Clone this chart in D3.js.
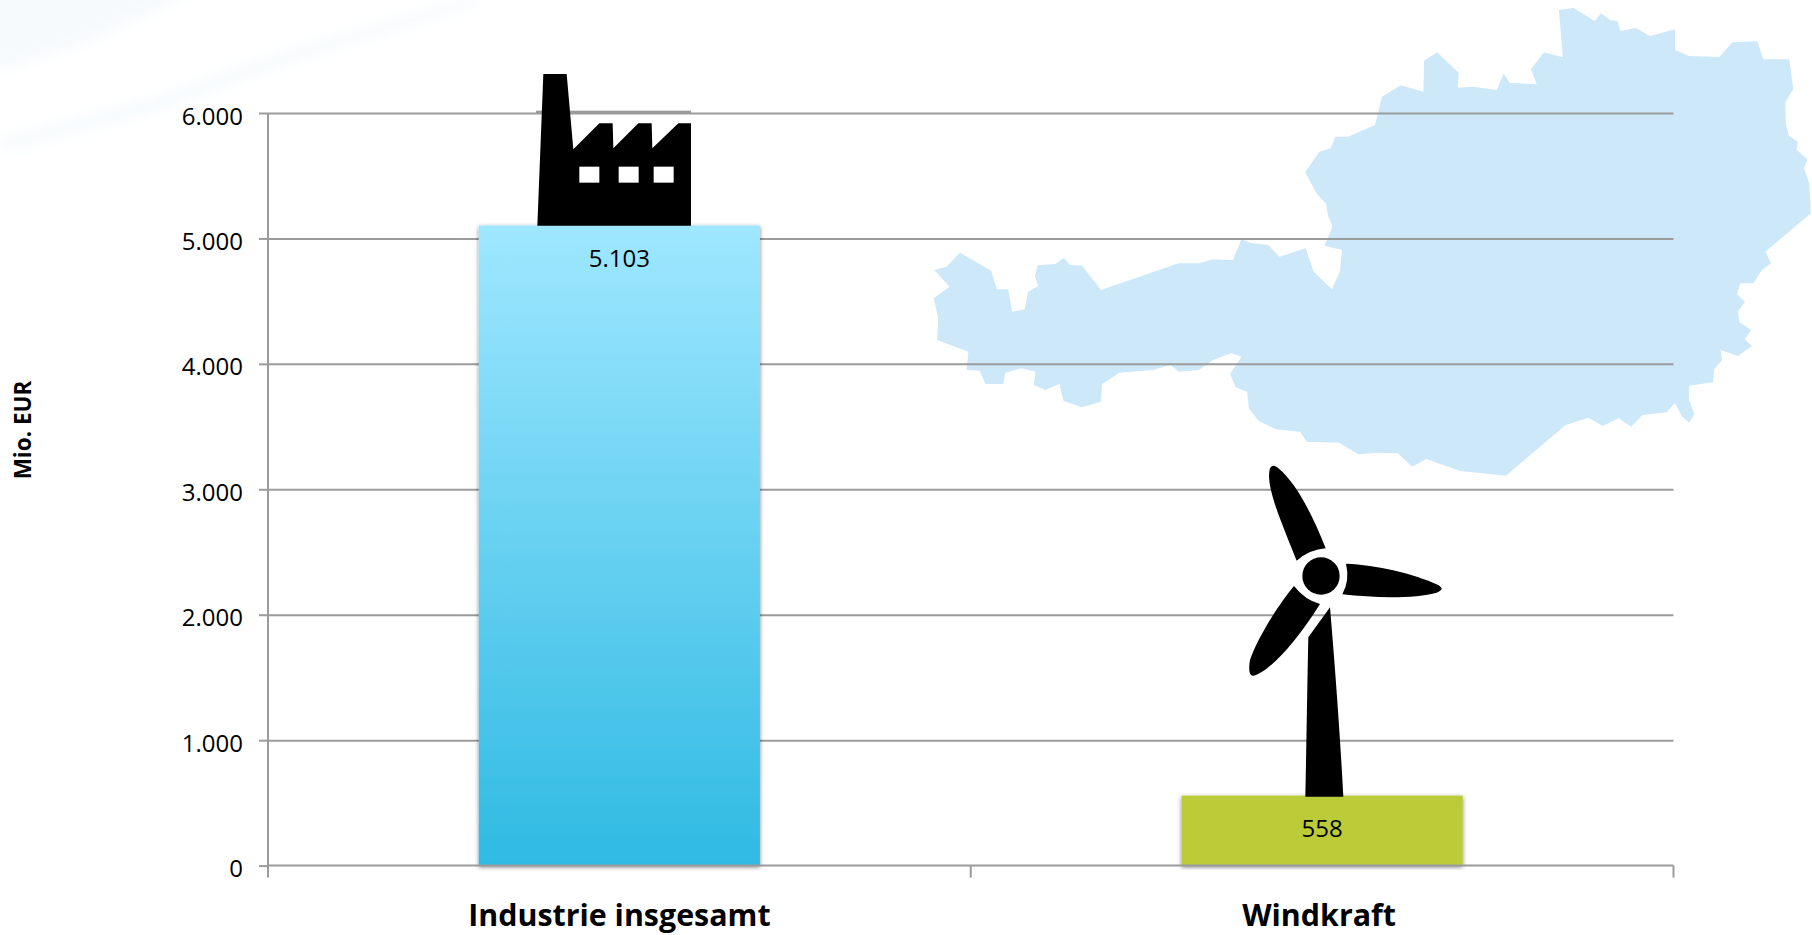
<!DOCTYPE html>
<html><head><meta charset="utf-8">
<script src="https://cdn.jsdelivr.net/npm/d3@7"></script>
<style>html,body{margin:0;padding:0;background:#fff;overflow:hidden}svg{display:block}text{font-family:"Open Sans",sans-serif;fill:#000}</style>
</head><body><svg id="c" width="1812" height="935"></svg>
<script>
const categories = ["Industrie insgesamt", "Windkraft"];
const values = [5103, 558];
const valueLabels = ["5.103", "558"];
const yTicks = [0, 1000, 2000, 3000, 4000, 5000, 6000];
const yTickLabels = ["0", "1.000", "2.000", "3.000", "4.000", "5.000", "6.000"];
const yTitle = "Mio. EUR";

const austria = [[25,810],[47,800],[70,758],[125,812],[135,868],[155,868],[162,935],[184,928],[190,875],[208,858],[202,828],[207,796],[238,792],[253,773],[263,795],[285,797],[318,870],[455,790],[490,790],[515,778],[550,780],[565,718],[580,728],[612,735],[632,770],[678,745],[692,815],[724,868],[738,815],[742,750],[711,737],[725,680],[717,645],[714,612],[697,580],[677,517],[702,455],[722,445],[730,410],[752,410],[800,375],[812,290],[845,256],[885,275],[886,182],[909,157],[947,218],[945,263],[972,260],[1014,270],[1026,220],[1036,248],[1084,253],[1074,207],[1097,157],[1130,172],[1123,30],[1149,24],[1186,63],[1197,40],[1213,60],[1226,63],[1231,93],[1258,84],[1283,108],[1327,88],[1327,150],[1352,168],[1405,171],[1428,127],[1472,124],[1482,178],[1528,178],[1535,267],[1521,307],[1522,370],[1527,407],[1543,425],[1541,450],[1560,478],[1554,505],[1563,550],[1566,640],[1486,755],[1496,790],[1480,810],[1465,850],[1442,850],[1436,883],[1450,905],[1438,933],[1440,965],[1461,990],[1450,1017],[1462,1038],[1438,1068],[1407,1050],[1410,1080],[1396,1108],[1394,1147],[1352,1157],[1352,1200],[1361,1243],[1352,1268],[1340,1250],[1327,1210],[1312,1237],[1270,1245],[1250,1280],[1228,1255],[1200,1278],[1175,1253],[1135,1275],[1030,1427],[950,1413],[890,1377],[865,1400],[840,1360],[805,1358],[770,1363],[737,1328],[680,1325],[668,1295],[625,1288],[595,1262],[578,1225],[575,1175],[555,1162],[545,1122],[565,1070],[547,1060],[515,1080],[490,1110],[455,1115],[440,1095],[410,1110],[350,1118],[320,1153],[318,1205],[285,1222],[252,1203],[245,1152],[220,1170],[200,1155],[203,1115],[178,1105],[150,1118],[146,1152],[115,1152],[105,1112],[82,1110],[85,1055],[30,1020],[32,955],[24,895],[52,860]];

const svg = d3.select("#c");
const plotL = 268, plotR = 1673.5, plotT = 113, plotB = 865.6;
const labelFont = '"Open Sans",sans-serif';
const x = d3.scaleBand().domain(categories).range([plotL, plotR]).paddingInner(0.6).paddingOuter(0.3);
const y = d3.scaleLinear().domain([0, 6000]).range([plotB, plotT]);

const defs = svg.append("defs");
const g = defs.append("linearGradient").attr("id","barGrad").attr("x1",0).attr("x2",0).attr("y1",0).attr("y2",1);
g.append("stop").attr("offset","0%").attr("stop-color","#9fe7ff");
g.append("stop").attr("offset","100%").attr("stop-color","#2fbae3");
const blur = defs.append("filter").attr("id","soft").attr("x","-20%").attr("y","-20%").attr("width","140%").attr("height","140%");
blur.append("feGaussianBlur").attr("stdDeviation",7);
const sh = defs.append("filter").attr("id","shadow").attr("x","-5%").attr("y","-5%").attr("width","110%").attr("height","110%");
sh.append("feDropShadow").attr("dx",0).attr("dy",1.5).attr("stdDeviation",2).attr("flood-color","#000").attr("flood-opacity",0.5);

// background swooshes
const swooshes = svg.append("g").attr("filter","url(#soft)");
swooshes.append("path").attr("d","M-20,-20 L220,-20 L123,25 L90,42 L0,70 L-20,70 Z").attr("fill","#f2f8fb").attr("opacity",0.7);
swooshes.append("path").attr("d","M477,-4 L300,48 L150,100 L0,140 L0,150 L150,112 L300,58 L477,4 Z").attr("fill","#eaf4f8").attr("opacity",0.55);

// map
svg.append("path")
  .attr("d", d3.line()(austria) + "Z")
  .attr("transform","translate(920,0) scale(0.5689,0.33333)")
  .attr("fill","#cde8f9");

// gridlines
const grid = svg.append("g").attr("transform",`translate(${plotL},0)`)
  .call(d3.axisLeft(y).tickValues(yTicks.slice(1)).tickSize(-(plotR-plotL)).tickFormat(""));
grid.select(".domain").remove();
grid.selectAll("line").attr("stroke","#9b9b9b").attr("stroke-width",2);

// bars
const barFill = ["url(#barGrad)", "#bbcc38"];
svg.append("g").selectAll("rect").data(categories).join("rect")
  .attr("x", d => x(d)).attr("width", x.bandwidth())
  .attr("y", (d,i) => y(values[i])).attr("height", (d,i) => plotB - y(values[i]))
  .attr("fill", (d,i) => barFill[i]).attr("filter","url(#shadow)");

// y axis
const yAxis = svg.append("g").attr("transform",`translate(${plotL},0)`)
  .call(d3.axisLeft(y).tickValues(yTicks).tickSize(9).tickPadding(16).tickFormat((d,i)=>yTickLabels[i]));
yAxis.select(".domain").attr("stroke","#9b9b9b").attr("stroke-width",2).attr("d",`M0,${plotT}V${plotB}`);
yAxis.selectAll("line").attr("stroke","#9b9b9b").attr("stroke-width",2);
yAxis.selectAll("text").attr("font-size",24).attr("dy",11).style("font-family",labelFont).attr("fill","#000");

// x axis
const xAxis = svg.append("g").attr("transform",`translate(0,${plotB})`)
  .call(d3.axisBottom(x).tickSize(0).tickPadding(0));
xAxis.select(".domain").attr("stroke","#9b9b9b").attr("stroke-width",2).attr("d",`M${plotL},0H${plotR}`);
xAxis.selectAll("text").attr("y",60).attr("dy",0).attr("dx",(d,i)=>i?-3:0).attr("font-size",30.4).attr("font-weight",700).style("font-family",labelFont).attr("fill","#000");
xAxis.selectAll(".bound").data([plotL, plotL + x.step(), plotR]).join("line").attr("class","bound")
  .attr("x1",d=>d).attr("x2",d=>d).attr("y1",0).attr("y2",12)
  .attr("stroke","#9b9b9b").attr("stroke-width",2);

// y title
svg.append("text").attr("transform","translate(31,430) rotate(-90)")
  .attr("text-anchor","middle").attr("font-size",22.5).attr("font-weight",700).text(yTitle);

// value labels
svg.append("g").selectAll("text").data(categories).join("text")
  .attr("x", d => x(d) + x.bandwidth()/2)
  .attr("y", (d,i) => y(values[i]) + 41)
  .attr("text-anchor","middle").attr("font-size",24)
  .text((d,i) => valueLabels[i]);

// factory icon
const fac = svg.append("g").attr("transform","translate(520,60) scale(0.33333)");
fac.append("rect").attr("x",48).attr("y",152).attr("width",465).attr("height",10).attr("fill","#9b9b9b");
fac.append("path").attr("fill","#000").attr("d","M52,497 L70,42 L140,42 L160,268 L238,190 L278,190 L280,265 L355,190 L395,190 L397,265 L475,190 L513,190 L513,497 Z");
fac.selectAll(".win").data([178,296,401]).join("rect").attr("class","win")
  .attr("x",d=>d).attr("y",320).attr("width",60).attr("height",48).attr("fill","#fff");

// wind turbine icon
const tur = svg.append("g").attr("transform","translate(1150,450) scale(0.33333)").attr("fill","#000");
tur.append("circle").attr("cx",513).attr("cy",378).attr("r",56);
tur.append("path").attr("d","M440,332 C400,230 350,120 358,65 C360,45 372,42 385,55 C440,100 490,200 527,295 Q480,298 440,332 Z");
tur.append("path").attr("d","M588,341 C680,345 790,370 865,405 C880,415 878,420 860,428 C800,445 680,445 577,433 Q600,390 588,341 Z");
tur.append("path").attr("d","M432,408 C380,470 320,570 300,630 C295,660 298,678 310,677 C350,670 430,590 510,462 Q465,450 432,408 Z");
tur.append("path").attr("d","M540,472 C555,650 570,850 580,1040 L466,1040 C470,850 472,700 475,562 Z");
</script></body></html>
